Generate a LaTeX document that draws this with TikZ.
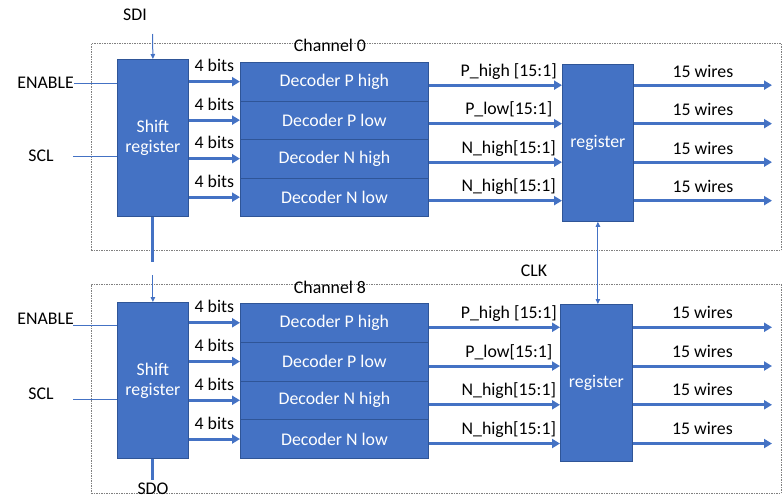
\documentclass[tikz,border=0pt]{standalone}
\usepackage{fontspec}
\setmainfont{Carlito}
\usetikzlibrary{arrows.meta}
\definecolor{blkfill}{HTML}{4472C4}
\definecolor{blkedge}{HTML}{2F5597}
\definecolor{wire}{HTML}{4472C4}
\begin{document}
\begin{tikzpicture}[x=1pt,y=-1pt, font=\fontsize{17.8}{20}\selectfont,
  box/.style={draw=blkedge, line width=0.8pt, fill=blkfill, text=white, align=center, inner sep=0pt, anchor=north west},
  bus/.style={draw=wire, line width=3pt, -{Triangle[length=8pt,width=9pt]}},
  busline/.style={draw=wire, line width=3pt},
  sig/.style={draw=wire, line width=1pt},
  sigarrow/.style={sig, -{Triangle[length=5pt,width=4.5pt]}},
  chbox/.style={draw=gray, dash pattern=on 1.5pt off 1pt, line width=0.7pt, anchor=north west, inner sep=0pt},
  lbl/.style={text=black, inner sep=0pt}]
\useasboundingbox (0,0) rectangle (783,498);

% channel frames
\node[chbox, minimum width=690, minimum height=207] (ch0) at (91,43) {};
\node[chbox, minimum width=690, minimum height=209] (ch8) at (91,284) {};
\node[lbl] (ch0l) at (330,45) {Channel 0};
\node[lbl] (ch8l) at (330,287) {Channel 8};

% ---------- channel 0 ----------
\node[box, minimum width=71, minimum height=157] (sr0) at (117,59) {Shift\\register};
\node[box, minimum width=188, minimum height=38.5] (dph0) at (240,62) {Decoder P high};
\node[box, minimum width=188, minimum height=38.5] (dpl0) at (240,100.5) {Decoder P low};
\node[box, minimum width=188, minimum height=38.5] (dnh0) at (240,139) {Decoder N high};
\node[box, minimum width=188, minimum height=38.5] (dnl0) at (240,177.5) {Decoder N low};
\node[box, minimum width=71, minimum height=157] (reg0) at (562,64) {register};

\draw[bus] (sr0.east |- dph0.west) -- (dph0.west) node[lbl, midway, anchor=base, yshift=10pt] {4 bits};
\draw[bus] (sr0.east |- dpl0.west) -- (dpl0.west) node[lbl, midway, anchor=base, yshift=10pt] {4 bits};
\draw[bus] (sr0.east |- dnh0.west) -- (dnh0.west) node[lbl, midway, anchor=base, yshift=10pt] {4 bits};
\draw[bus] (sr0.east |- dnl0.west) -- (dnl0.west) node[lbl, midway, anchor=base, yshift=10pt] {4 bits};

\coordinate (a0) at ([yshift=-3.5pt]dph0.east);
\coordinate (b0) at ([yshift=-3.5pt]dpl0.east);
\coordinate (c0) at ([yshift=-3.5pt]dnh0.east);
\coordinate (d0) at ([yshift=-3.5pt]dnl0.east);
\draw[bus] (a0) -- (reg0.west |- a0) node[lbl, pos=0.6, anchor=base, yshift=9pt] {P\_high [15:1]};
\draw[bus] (b0) -- (reg0.west |- b0) node[lbl, pos=0.6, anchor=base, yshift=9pt] {P\_low[15:1]};
\draw[bus] (c0) -- (reg0.west |- c0) node[lbl, pos=0.6, anchor=base, yshift=9pt] {N\_high[15:1]};
\draw[bus] (d0) -- (reg0.west |- d0) node[lbl, pos=0.6, anchor=base, yshift=9pt] {N\_high[15:1]};

\coordinate (out0) at (772,0);
\draw[bus] (reg0.east |- a0) -- (out0 |- a0) node[lbl, pos=0.5, anchor=base, yshift=8pt] {15 wires};
\draw[bus] (reg0.east |- b0) -- (out0 |- b0) node[lbl, pos=0.5, anchor=base, yshift=8pt] {15 wires};
\draw[bus] (reg0.east |- c0) -- (out0 |- c0) node[lbl, pos=0.5, anchor=base, yshift=8pt] {15 wires};
\draw[bus] (reg0.east |- d0) -- (out0 |- d0) node[lbl, pos=0.5, anchor=base, yshift=8pt] {15 wires};

\node[lbl] (sdi) at (135,15) {SDI};
\coordinate (sdiin) at (152.5,34);
\draw[sigarrow] (sdiin) -- (sr0.north);

\node[lbl, anchor=east] (en0) at (74,83) {ENABLE};
\draw[sig] (en0.east) -- (sr0.west |- en0.east);
\node[lbl] (scl0) at (41,156) {SCL};
\coordinate (scl0s) at (73,156);
\draw[sig] (scl0s) -- (sr0.west |- scl0s);

% link between channels
\coordinate (lnk0) at (sr0.south |- 0,262);
\draw[busline] (sr0.south) -- (lnk0);

% ---------- channel 8 ----------
\node[box, minimum width=71, minimum height=156] (sr8) at (117,302) {Shift\\register};
\node[box, minimum width=188, minimum height=38.75] (dph8) at (240,303) {Decoder P high};
\node[box, minimum width=188, minimum height=38.75] (dpl8) at (240,341.75) {Decoder P low};
\node[box, minimum width=188, minimum height=38.75] (dnh8) at (240,380.5) {Decoder N high};
\node[box, minimum width=188, minimum height=38.75] (dnl8) at (240,419.25) {Decoder N low};
\node[box, minimum width=72, minimum height=157] (reg8) at (560,304) {register};

\coordinate (lnk1) at (sr8.north |- 0,275);
\draw[sigarrow] (lnk1) -- (sr8.north);

\draw[bus] (sr8.east |- dph8.west) -- (dph8.west) node[lbl, midway, anchor=base, yshift=10pt] {4 bits};
\draw[bus] (sr8.east |- dpl8.west) -- (dpl8.west) node[lbl, midway, anchor=base, yshift=10pt] {4 bits};
\draw[bus] (sr8.east |- dnh8.west) -- (dnh8.west) node[lbl, midway, anchor=base, yshift=10pt] {4 bits};
\draw[bus] (sr8.east |- dnl8.west) -- (dnl8.west) node[lbl, midway, anchor=base, yshift=10pt] {4 bits};

\coordinate (a8) at ([yshift=-4.5pt]dph8.east);
\coordinate (b8) at ([yshift=-4.5pt]dpl8.east);
\coordinate (c8) at ([yshift=-4.5pt]dnh8.east);
\coordinate (d8) at ([yshift=-4.5pt]dnl8.east);
\draw[bus] (a8) -- (reg8.west |- a8) node[lbl, pos=0.61, anchor=base, yshift=9pt] {P\_high [15:1]};
\draw[bus] (b8) -- (reg8.west |- b8) node[lbl, pos=0.61, anchor=base, yshift=9pt] {P\_low[15:1]};
\draw[bus] (c8) -- (reg8.west |- c8) node[lbl, pos=0.61, anchor=base, yshift=9pt] {N\_high[15:1]};
\draw[bus] (d8) -- (reg8.west |- d8) node[lbl, pos=0.61, anchor=base, yshift=9pt] {N\_high[15:1]};

\draw[bus] (reg8.east |- a8) -- (out0 |- a8) node[lbl, pos=0.5, anchor=base, yshift=9pt] {15 wires};
\draw[bus] (reg8.east |- b8) -- (out0 |- b8) node[lbl, pos=0.5, anchor=base, yshift=9pt] {15 wires};
\draw[bus] (reg8.east |- c8) -- (out0 |- c8) node[lbl, pos=0.5, anchor=base, yshift=9pt] {15 wires};
\draw[bus] (reg8.east |- d8) -- (out0 |- d8) node[lbl, pos=0.5, anchor=base, yshift=9pt] {15 wires};

\node[lbl, anchor=east] (en8) at (74,319) {ENABLE};
\coordinate (en8s) at (73,325);
\draw[sig] (en8s) -- (sr8.west |- en8s);
\node[lbl] (scl8) at (41,394) {SCL};
\coordinate (scl8s) at (73,399);
\draw[sig] (scl8s) -- (sr8.west |- scl8s);

\coordinate (sdoend) at (sr8.south |- 0,480);
\draw[busline] (sr8.south) -- (sdoend);
\node[lbl, anchor=base] (sdo) at (153,494) {SDO};

% clock
\node[lbl] (clk) at (534,271) {CLK};
\draw[sig, {Triangle[length=5pt,width=4.5pt]}-{Triangle[length=5pt,width=4.5pt]}] (reg0.south) -- (reg0.south |- reg8.north);
\end{tikzpicture}
\end{document}
